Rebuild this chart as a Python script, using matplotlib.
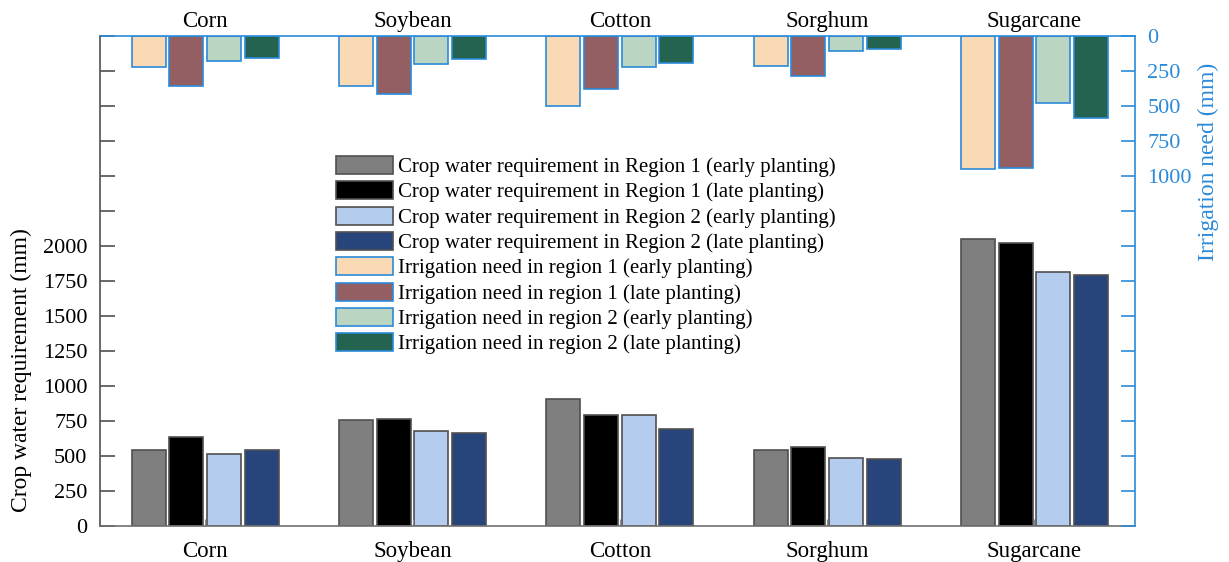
import numpy as np
import matplotlib
matplotlib.use("Agg")
import matplotlib.pyplot as plt
from matplotlib.ticker import FixedLocator, FuncFormatter

plt.rcParams['font.family'] = ['Liberation Serif', 'DejaVu Serif']

crops = ["Corn", "Soybean", "Cotton", "Sorghum", "Sugarcane"]

# Crop water requirement (mm)
cwr_r1_early = [545, 755, 909, 541, 2050]
cwr_r1_late = [633, 764, 790, 564, 2021]
cwr_r2_early = [512, 679, 793, 486, 1812]
cwr_r2_late = [545, 664, 695, 481, 1795]

# Irrigation need (mm)
irr_r1_early = [224, 359, 498, 214, 952]
irr_r1_late = [355, 412, 379, 286, 941]
irr_r2_early = [179, 202, 219, 105, 476]
irr_r2_late = [155, 167, 190, 93, 588]

cwr_labels = [
    "Crop water requirement in Region 1 (early planting)",
    "Crop water requirement in Region 1 (late planting)",
    "Crop water requirement in Region 2 (early planting)",
    "Crop water requirement in Region 2 (late planting)",
]
irr_labels = [
    "Irrigation need in region 1 (early planting)",
    "Irrigation need in region 1 (late planting)",
    "Irrigation need in region 2 (early planting)",
    "Irrigation need in region 2 (late planting)",
]

cwr_colors = ["#7f7f7f", "#000000", "#b4ccee", "#27457a"]
irr_colors = ["#fad9b5", "#935f62", "#bad5c1", "#236350"]
blue = "#2b8ad8"
gray_edge = "#505050"

fig = plt.figure(figsize=(12.29, 5.62), dpi=100)
ax = fig.add_axes([100 / 1229, 1 - 526 / 562, (1135 - 100) / 1229, (526 - 36) / 562])
ax2 = ax.twinx()

x = np.arange(len(crops))
width = 0.164
step = 0.182
offsets = [-1.5 * step, -0.5 * step, 0.5 * step, 1.5 * step]

handles = []
for vals, col, lab, off in zip([cwr_r1_early, cwr_r1_late, cwr_r2_early, cwr_r2_late],
                               cwr_colors, cwr_labels, offsets):
    b = ax.bar(x + off, vals, width, color=col, edgecolor=gray_edge, linewidth=1.2, label=lab)
    handles.append(b)

for vals, col, lab, off in zip([irr_r1_early, irr_r1_late, irr_r2_early, irr_r2_late],
                               irr_colors, irr_labels, offsets):
    b = ax2.bar(x + off, vals, width, color=col, edgecolor=blue, linewidth=1.2, label=lab)
    handles.append(b)

ax.set_xlim(-0.508, 4.485)
ax.set_ylim(0, 3500)
ax2.set_ylim(3500, 0)

ticks = np.arange(0, 3501, 250)
ax.yaxis.set_major_locator(FixedLocator(ticks))
ax.yaxis.set_major_formatter(FuncFormatter(lambda v, p: f"{int(v)}" if v <= 2000 else ""))
ax2.yaxis.set_major_locator(FixedLocator(ticks))
ax2.yaxis.set_major_formatter(FuncFormatter(lambda v, p: f"{int(v)}" if v <= 1000 else ""))

# crop names below the bars
ax.set_xticks(x)
ax.set_xticklabels(crops)
ax.tick_params(axis='x', direction='in', length=5, color='#909090', labelsize=16.5,
               pad=11, top=False, labeltop=False)

# crop names repeated above the irrigation bars
top = ax.secondary_xaxis('top')
top.set_xticks(x)
top.set_xticklabels(crops)
top.tick_params(axis='x', length=0, labelsize=16.5, pad=3)
top.spines['top'].set_visible(False)

ax.tick_params(axis='y', direction='in', length=11, width=1.2, color='#505050',
               labelsize=16, pad=9, right=False)
ax2.tick_params(axis='y', direction='in', length=10, width=1.2, color=blue,
                labelcolor=blue, labelsize=16, pad=9, left=False)

for s in ['top', 'right']:
    ax.spines[s].set_visible(False)
ax.spines['left'].set_color('#505050')
ax.spines['bottom'].set_color('#707070')
ax.spines['left'].set_linewidth(1.2)
ax.spines['bottom'].set_linewidth(1.2)
ax2.spines['left'].set_visible(False)
ax2.spines['bottom'].set_visible(False)
ax2.spines['right'].set_color(blue)
ax2.spines['top'].set_color(blue)
ax2.spines['right'].set_linewidth(1.2)
ax2.spines['top'].set_linewidth(1.2)

ax.set_ylabel("Crop water requirement (mm)", fontsize=17)
ax.yaxis.set_label_coords(-0.066, 0.318)
ax2.set_ylabel("Irrigation need (mm)", fontsize=17, color=blue)
ax2.yaxis.set_label_coords(1.061, 0.743)

fig.legend(handles=handles, loc='upper left',
           bbox_to_anchor=(336 / 1229, 1 - 156 / 562),
           frameon=False, fontsize=15, borderpad=0, borderaxespad=0,
           handlelength=2.75, handleheight=0.95, handletextpad=0.22,
           labelspacing=0.2)

fig.savefig("out.png", dpi=100)
